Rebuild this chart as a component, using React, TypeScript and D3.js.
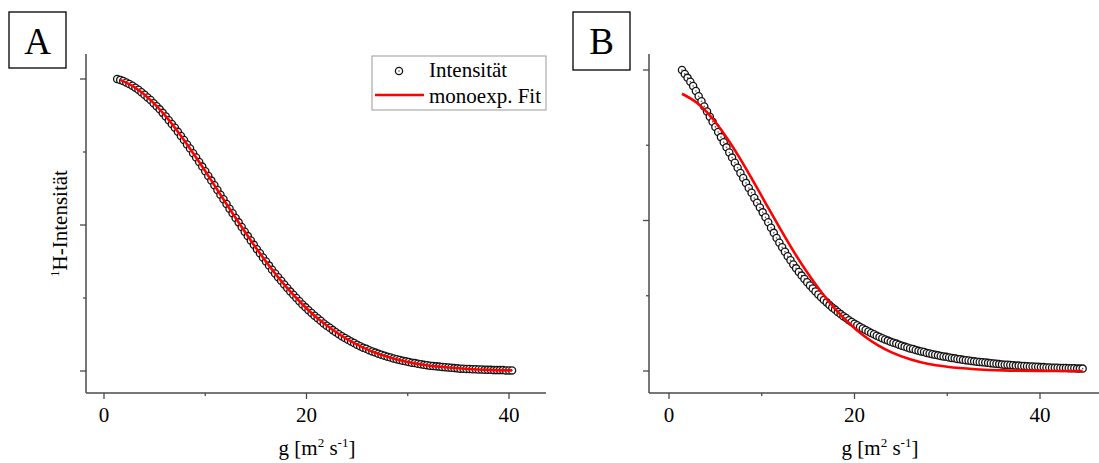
import React from "react";
import * as d3 from "d3";

const W = 1099;
const H = 463;
const FONT = "'Liberation Serif', 'Times New Roman', serif";

/* ---------- Panel A: Messpunkte ---------- */
const gA = [
  1.3, 1.6, 1.9, 2.2, 2.5, 2.8, 3.1, 3.4, 3.7, 4.0,
  4.3, 4.6, 4.9, 5.2, 5.5, 5.8, 6.1, 6.4, 6.7, 7.0,
  7.3, 7.6, 7.9, 8.2, 8.5, 8.8, 9.1, 9.4, 9.7, 10.0,
  10.3, 10.6, 10.9, 11.2, 11.5, 11.8, 12.1, 12.4, 12.7, 13.0,
  13.3, 13.6, 13.9, 14.2, 14.5, 14.8, 15.1, 15.4, 15.7, 16.0,
  16.3, 16.6, 16.9, 17.2, 17.5, 17.8, 18.1, 18.4, 18.7, 19.0,
  19.3, 19.6, 19.9, 20.2, 20.5, 20.8, 21.1, 21.4, 21.7, 22.0,
  22.3, 22.6, 22.9, 23.2, 23.5, 23.8, 24.1, 24.4, 24.7, 25.0,
  25.3, 25.6, 25.9, 26.2, 26.5, 26.8, 27.1, 27.4, 27.7, 28.0,
  28.3, 28.6, 28.9, 29.2, 29.5, 29.8, 30.1, 30.4, 30.7, 31.0,
  31.3, 31.6, 31.9, 32.2, 32.5, 32.8, 33.1, 33.4, 33.7, 34.0,
  34.3, 34.6, 34.9, 35.2, 35.5, 35.8, 36.1, 36.4, 36.7, 37.0,
  37.3, 37.6, 37.9, 38.2, 38.5, 38.8, 39.1, 39.4, 39.7, 40.0,
  40.3,
];
const intensityA = [
  1.000, 0.997, 0.993, 0.988, 0.983, 0.977, 0.970, 0.963, 0.955, 0.946,
  0.937, 0.928, 0.917, 0.907, 0.896, 0.884, 0.872, 0.859, 0.846, 0.833,
  0.819, 0.805, 0.791, 0.776, 0.762, 0.746, 0.731, 0.716, 0.700, 0.684,
  0.668, 0.652, 0.636, 0.620, 0.604, 0.588, 0.572, 0.556, 0.540, 0.524,
  0.509, 0.493, 0.477, 0.462, 0.447, 0.432, 0.417, 0.403, 0.389, 0.375,
  0.361, 0.347, 0.334, 0.321, 0.309, 0.296, 0.284, 0.272, 0.261, 0.250,
  0.239, 0.228, 0.218, 0.208, 0.199, 0.189, 0.181, 0.172, 0.163, 0.155,
  0.148, 0.140, 0.133, 0.126, 0.119, 0.113, 0.107, 0.101, 0.096, 0.090,
  0.085, 0.080, 0.076, 0.071, 0.067, 0.063, 0.059, 0.056, 0.052, 0.049,
  0.046, 0.043, 0.040, 0.038, 0.035, 0.033, 0.031, 0.028, 0.027, 0.025,
  0.023, 0.021, 0.020, 0.018, 0.017, 0.016, 0.015, 0.014, 0.013, 0.012,
  0.011, 0.010, 0.009, 0.008, 0.008, 0.007, 0.007, 0.006, 0.006, 0.005,
  0.005, 0.004, 0.004, 0.004, 0.003, 0.003, 0.003, 0.003, 0.002, 0.002,
  0.002,
];
// monoexp. Fit A
const gFitA = [1.6, 3, 4.5, 6, 7.5, 9, 10.5, 12, 13.5, 15, 16.5, 18, 19.5, 21, 22.5, 24, 25.5, 27, 28.5, 30, 32, 34, 36, 38, 40.3];
const fitA = [0.997, 0.972, 0.931, 0.876, 0.810, 0.736, 0.658, 0.577, 0.498, 0.422, 0.352, 0.288, 0.232, 0.183, 0.143, 0.109, 0.082, 0.060, 0.044, 0.031, 0.019, 0.012, 0.007, 0.004, 0.002];

/* ---------- Panel B: Messpunkte ---------- */
const gB = [
  1.4, 1.7, 2.0, 2.3, 2.6, 2.9, 3.2, 3.5, 3.8, 4.1,
  4.4, 4.7, 5.0, 5.3, 5.6, 5.9, 6.2, 6.5, 6.8, 7.1,
  7.4, 7.7, 8.0, 8.3, 8.6, 8.9, 9.2, 9.5, 9.8, 10.1,
  10.4, 10.7, 11.0, 11.3, 11.6, 11.9, 12.2, 12.5, 12.8, 13.1,
  13.4, 13.7, 14.0, 14.3, 14.6, 14.9, 15.2, 15.5, 15.8, 16.1,
  16.4, 16.7, 17.0, 17.3, 17.6, 17.9, 18.2, 18.5, 18.8, 19.1,
  19.4, 19.7, 20.0, 20.3, 20.6, 20.9, 21.2, 21.5, 21.8, 22.1,
  22.4, 22.7, 23.0, 23.3, 23.6, 23.9, 24.2, 24.5, 24.8, 25.1,
  25.4, 25.7, 26.0, 26.3, 26.6, 26.9, 27.2, 27.5, 27.8, 28.1,
  28.4, 28.7, 29.0, 29.3, 29.6, 29.9, 30.2, 30.5, 30.8, 31.1,
  31.4, 31.7, 32.0, 32.3, 32.6, 32.9, 33.2, 33.5, 33.8, 34.1,
  34.4, 34.7, 35.0, 35.3, 35.6, 35.9, 36.2, 36.5, 36.8, 37.1,
  37.4, 37.7, 38.0, 38.3, 38.6, 38.9, 39.2, 39.5, 39.8, 40.1,
  40.4, 40.7, 41.0, 41.3, 41.6, 41.9, 42.2, 42.5, 42.8, 43.1,
  43.4, 43.7, 44.0, 44.3, 44.6,
];
const intensityB = [
  1.000, 0.987, 0.974, 0.961, 0.947, 0.930, 0.913, 0.896, 0.879, 0.862,
  0.845, 0.828, 0.811, 0.794, 0.777, 0.760, 0.743, 0.726, 0.709, 0.692,
  0.675, 0.658, 0.641, 0.625, 0.608, 0.592, 0.575, 0.559, 0.543, 0.527,
  0.511, 0.494, 0.476, 0.459, 0.442, 0.426, 0.411, 0.396, 0.381, 0.368,
  0.354, 0.341, 0.329, 0.317, 0.306, 0.295, 0.284, 0.274, 0.264, 0.254,
  0.245, 0.236, 0.228, 0.219, 0.211, 0.204, 0.196, 0.189, 0.182, 0.176,
  0.169, 0.163, 0.157, 0.152, 0.146, 0.141, 0.136, 0.131, 0.126, 0.122,
  0.117, 0.113, 0.109, 0.105, 0.101, 0.097, 0.094, 0.091, 0.087, 0.084,
  0.081, 0.078, 0.075, 0.073, 0.070, 0.067, 0.065, 0.063, 0.060, 0.058,
  0.056, 0.054, 0.052, 0.050, 0.048, 0.047, 0.045, 0.043, 0.042, 0.040,
  0.039, 0.037, 0.036, 0.035, 0.033, 0.032, 0.031, 0.030, 0.029, 0.028,
  0.027, 0.026, 0.025, 0.024, 0.023, 0.022, 0.021, 0.021, 0.020, 0.019,
  0.018, 0.018, 0.017, 0.017, 0.016, 0.015, 0.015, 0.014, 0.014, 0.013,
  0.013, 0.012, 0.012, 0.011, 0.011, 0.011, 0.010, 0.010, 0.010, 0.009,
  0.009, 0.009, 0.008, 0.008, 0.008,
];
// monoexp. Fit B
const gFitB = [1.4, 3, 4.5, 6, 7.5, 9, 10.5, 12, 13.5, 15, 16.5, 18, 19.5, 21, 22.5, 24, 26, 28, 30, 33, 36, 40, 44.6];
const fitB = [0.921, 0.891, 0.846, 0.785, 0.714, 0.635, 0.553, 0.472, 0.394, 0.323, 0.259, 0.203, 0.156, 0.117, 0.086, 0.062, 0.039, 0.023, 0.014, 0.006, 0.002, 0.0005, 0.0001];

/* ---------- Achsen ---------- */
const xMajor = [0, 20, 40];
const xMinor = [10, 30];
const yMajor = [0, 0.5, 1];
const yMinor = [0.25, 0.75];
const legendLabels = ["Intensität", "monoexp. Fit"];

type PanelProps = {
  label: string;
  box: { x: number; y: number; w: number; h: number };
  frame: { left: number; right: number; top: number; bottom: number };
  xPx: [number, number];
  yPx: [number, number];
  g: number[];
  v: number[];
  gFit: number[];
  vFit: number[];
  xLabelX: number;
  showYLabel?: boolean;
  showLegend?: boolean;
};

function Marker({ cx, cy }: { cx: number; cy: number }) {
  return (
    <g>
      <circle cx={cx} cy={cy} r={3.6} fill="#fff" stroke="#141414" strokeWidth={1.3} />
      <circle cx={cx} cy={cy} r={0.8} fill="#555" />
    </g>
  );
}

function Panel(p: PanelProps) {
  const x = d3.scaleLinear().domain([0, 40]).range(p.xPx);
  const y = d3.scaleLinear().domain([0, 1]).range(p.yPx);
  const fitLine = d3
    .line<number>()
    .x((_, i) => x(p.gFit[i]))
    .y((d) => y(d))
    .curve(d3.curveMonotoneX);
  const { left, right, top, bottom } = p.frame;
  const axisColor = "#4a4a4a";

  return (
    <g>
      {/* Panel-Buchstabe */}
      <rect x={p.box.x} y={p.box.y} width={p.box.w} height={p.box.h} fill="#fff" stroke="#000" strokeWidth={1.3} />
      <text x={p.box.x + p.box.w / 2} y={p.box.y + 42} textAnchor="middle" fontSize={37} fontFamily={FONT}>
        {p.label}
      </text>

      {/* Achsen */}
      <line x1={left} x2={left} y1={top} y2={bottom} stroke={axisColor} strokeWidth={1.5} />
      <line x1={left} x2={right} y1={bottom} y2={bottom} stroke={axisColor} strokeWidth={1.5} />
      {xMajor.map((t) => (
        <g key={"xM" + t}>
          <line x1={x(t)} x2={x(t)} y1={bottom} y2={bottom + 6} stroke={axisColor} strokeWidth={1.3} />
          <text x={x(t)} y={bottom + 29} textAnchor="middle" fontSize={21} fontFamily={FONT}>
            {t}
          </text>
        </g>
      ))}
      {xMinor.map((t) => (
        <line key={"xm" + t} x1={x(t)} x2={x(t)} y1={bottom} y2={bottom + 3} stroke={axisColor} strokeWidth={1.3} />
      ))}
      {yMajor.map((t) => (
        <line key={"yM" + t} x1={left - 6} x2={left} y1={y(t)} y2={y(t)} stroke={axisColor} strokeWidth={1.3} />
      ))}
      {yMinor.map((t) => (
        <line key={"ym" + t} x1={left - 3} x2={left} y1={y(t)} y2={y(t)} stroke={axisColor} strokeWidth={1.3} />
      ))}

      {/* Achsenbeschriftung */}
      <text x={p.xLabelX} y={455} textAnchor="middle" fontSize={21} fontFamily={FONT}>
        g [m<tspan fontSize={13} dy={-8}>2</tspan>
        <tspan dy={8}> s</tspan>
        <tspan fontSize={13} dy={-8}>-1</tspan>
        <tspan dy={8}>]</tspan>
      </text>
      {p.showYLabel && (
        <text transform={`translate(67,${(top + bottom) / 2}) rotate(-90)`} textAnchor="middle" fontSize={21} fontFamily={FONT}>
          <tspan fontSize={13} dy={-8}>1</tspan>
          <tspan dy={8}>H-Intensität</tspan>
        </text>
      )}

      {/* Messpunkte */}
      {p.v.map((d, i) => (
        <Marker key={i} cx={x(p.g[i])} cy={y(d)} />
      ))}
      {/* Fit */}
      <path d={fitLine(p.vFit) || ""} fill="none" stroke="#ff0000" strokeWidth={2.6} />

      {/* Legende */}
      {p.showLegend && (
        <g>
          <rect x={372} y={56} width={174} height={54} fill="#fff" stroke="#9a9a9a" strokeWidth={1} />
          <Marker cx={399} cy={71} />
          <line x1={375} x2={424} y1={95} y2={95} stroke="#ff0000" strokeWidth={2.6} />
          <text x={429} y={77} fontSize={21} fontFamily={FONT}>{legendLabels[0]}</text>
          <text x={429} y={103} fontSize={21} fontFamily={FONT}>{legendLabels[1]}</text>
        </g>
      )}
    </g>
  );
}

export default function App() {
  return (
    <svg
      width={W}
      height={H}
      viewBox={`0 0 ${W} ${H}`}
      style={{ position: "absolute", left: 0, top: 0, background: "#fff" }}
    >
      <rect width={W} height={H} fill="#fff" />
      <Panel
        label="A"
        box={{ x: 9, y: 12, w: 57, h: 56 }}
        frame={{ left: 86, right: 546, top: 54, bottom: 393 }}
        xPx={[104, 509]}
        yPx={[371, 79]}
        g={gA}
        v={intensityA}
        gFit={gFitA}
        vFit={fitA}
        xLabelX={317}
        showYLabel
        showLegend
      />
      <Panel
        label="B"
        box={{ x: 573, y: 12, w: 57, h: 58 }}
        frame={{ left: 649, right: 1099, top: 54, bottom: 393 }}
        xPx={[669, 1040]}
        yPx={[371, 70]}
        g={gB}
        v={intensityB}
        gFit={gFitB}
        vFit={fitB}
        xLabelX={880}
      />
    </svg>
  );
}
